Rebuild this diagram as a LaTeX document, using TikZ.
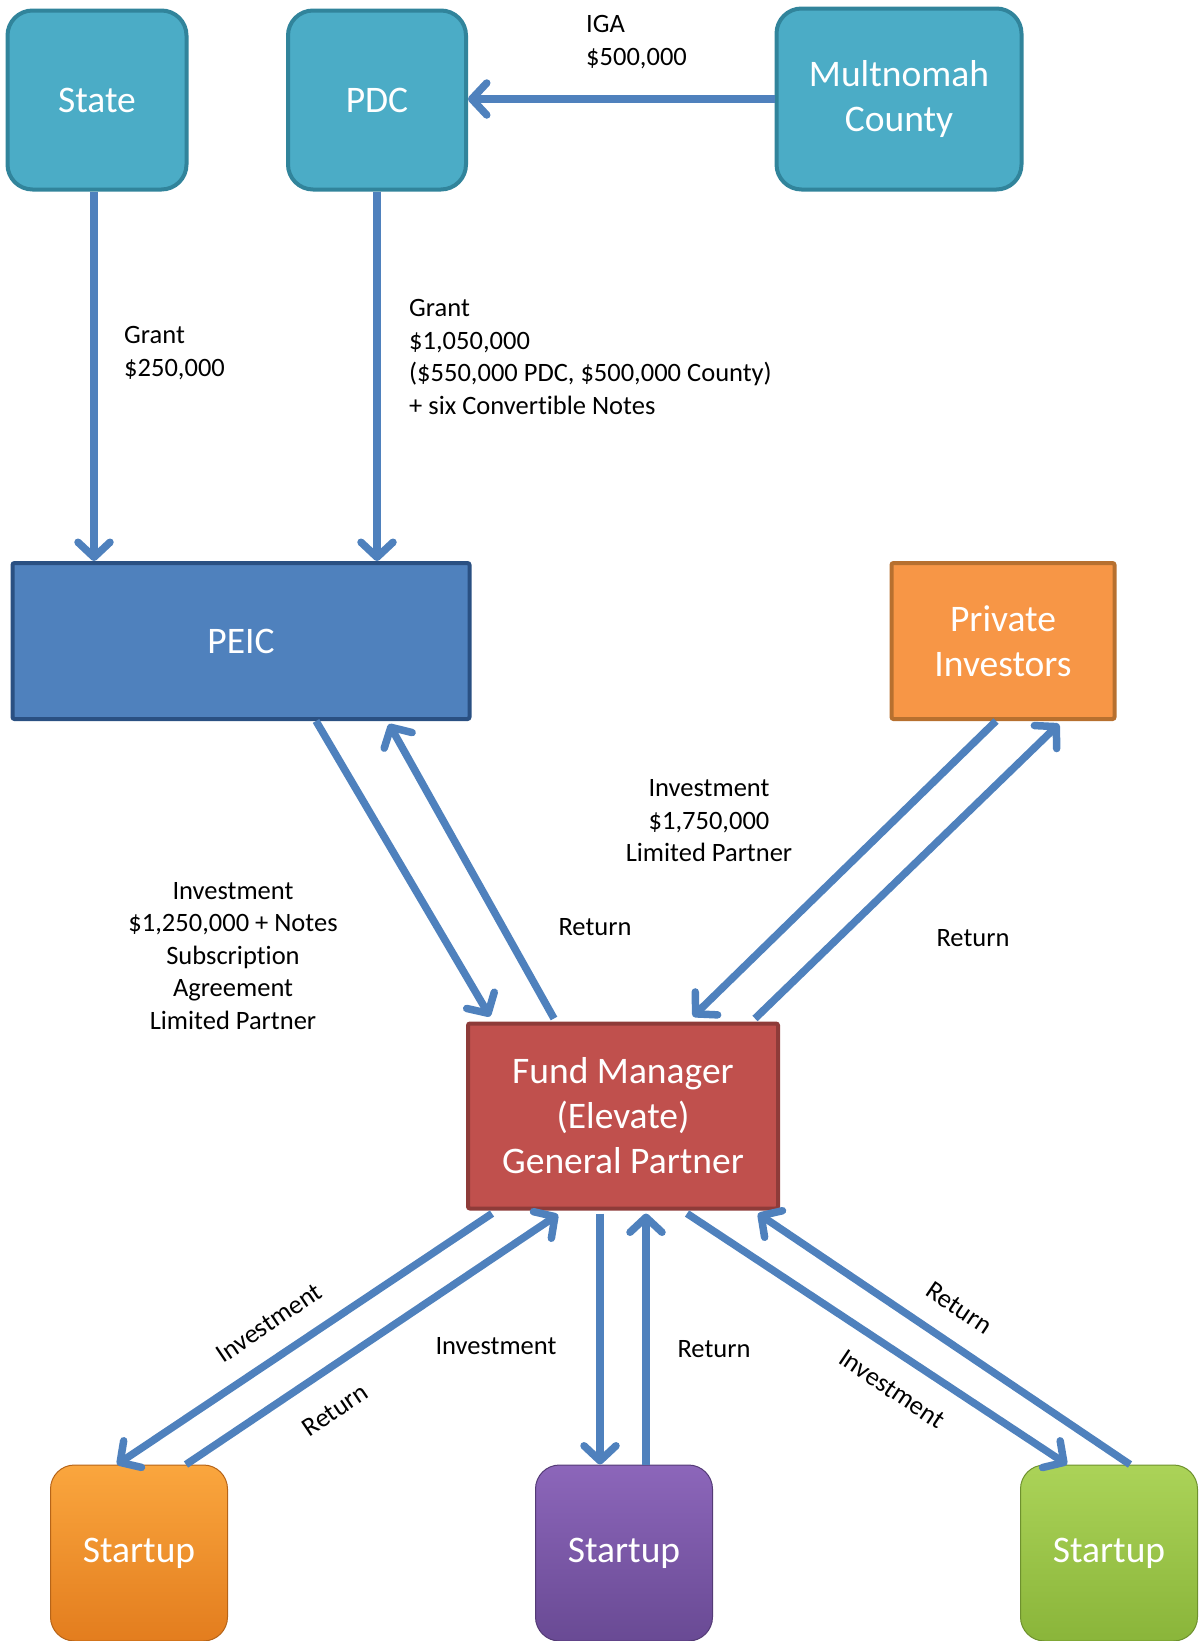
\documentclass[tikz,border=0pt]{standalone}
\usepackage{fontspec}
\setmainfont{Carlito}[Ligatures=NoCommon]
\usetikzlibrary{arrows.meta,calc}
\definecolor{tealfill}{HTML}{4BACC6}
\definecolor{tealdraw}{HTML}{31849B}
\definecolor{peicfill}{HTML}{4F81BD}
\definecolor{peicdraw}{HTML}{2A5082}
\definecolor{pifill}{HTML}{F79646}
\definecolor{pidraw}{HTML}{B7702F}
\definecolor{fmfill}{HTML}{C0504D}
\definecolor{fmdraw}{HTML}{8E3B39}
\definecolor{arrowblue}{HTML}{4F81BD}
\definecolor{orTop}{HTML}{FAA63E}
\definecolor{orBot}{HTML}{E37D1E}
\definecolor{puTop}{HTML}{8C66BA}
\definecolor{puBot}{HTML}{694A94}
\definecolor{grTop}{HTML}{ABD358}
\definecolor{grBot}{HTML}{8AB53A}
\tikzset{
  boxtext/.style={text=white, font=\fontsize{37.5}{45}\selectfont, align=center, inner sep=0},
  topbox/.style={boxtext, fill=tealfill, draw=tealdraw, line width=4pt, rounded corners=25pt},
  sqbox/.style={boxtext, line width=4pt, rounded corners=2pt},
  startbox/.style={boxtext, rounded corners=24pt, minimum width=177pt, minimum height=176pt, line width=1pt},
  lbl/.style={font=\fontsize{26.5}{32.5}\selectfont, inner sep=0, text=black},
  flow/.style={draw=arrowblue, line width=7.5pt, -{Straight Barb[length=15pt,width=32pt,round]}}
}
\begin{document}
\begin{tikzpicture}[x=1pt,y=-1pt]
\useasboundingbox (0,0) rectangle (1200,1641);
% top boxes
\node[topbox, minimum width=179pt, minimum height=179pt] (state) at (97,100) {State};
\node[topbox, minimum width=178pt, minimum height=179pt] (pdc) at (377,100) {PDC};
\node[topbox, minimum width=245pt, minimum height=181pt] (mult) at (899,99) {Multnomah\\County};
% middle
\node[sqbox, fill=peicfill, draw=peicdraw, minimum width=457pt, minimum height=156pt] (peic) at (241,641) {PEIC};
\node[sqbox, fill=pifill, draw=pidraw, minimum width=223pt, minimum height=156pt] (pi) at (1003,641) {Private\\Investors};
\node[sqbox, fill=fmfill, draw=fmdraw, minimum width=310pt, minimum height=185pt] (fm) at (623,1116) {Fund Manager\\(Elevate)\\General Partner};
% startups
\node[startbox, top color=orTop, bottom color=orBot, draw=orBot!80!black] (s1) at (139,1553) {Startup};
\node[startbox, top color=puTop, bottom color=puBot, draw=puBot!80!black] (s2) at (624,1553) {Startup};
\node[startbox, top color=grTop, bottom color=grBot, draw=grBot!80!black] (s3) at (1109,1553) {Startup};

% connectors
\draw[flow] (mult.west) -- (mult.west -| pdc.east);
\draw[flow] ([xshift=-3pt]state.south) -- ([xshift=-3pt]state.south |- peic.north);
\draw[flow] (pdc.south) -- (pdc.south |- peic.north);
\draw[flow] ($(peic.south)+(75,0)$) -- ($(fm.north)+(-133,-5)$);
\draw[flow] ($(fm.north)+(-69,-3)$) -- ($(peic.south)+(148,3)$);
\draw[flow] ($(pi.south)+(-7,0)$) -- ($(fm.north)+(70,-5)$);
\draw[flow] ($(fm.north)+(132,-3)$) -- ($(pi.south)+(56,3)$);
\draw[flow] ($(fm.south)+(-131,3)$) -- ($(s1.north)+(-22,0)$);
\draw[flow] ($(s1.north)+(47,0)$) -- ($(fm.south)+(-65,4)$);
\draw[flow] ($(fm.south)+(-23,3)$) -- ($(s2.north)+(-24,0)$);
\draw[flow] ($(s2.north)+(22,0)$) -- ($(fm.south)+(23,3)$);
\draw[flow] ($(fm.south)+(64,3)$) -- ($(s3.north)+(-42,0)$);
\draw[flow] ($(s3.north)+(21,0)$) -- ($(fm.south)+(135,3)$);

% labels
\node[lbl, anchor=west, align=left] (liga) at (586,42) {IGA\\\$500,000};
\node[lbl, anchor=west, align=left] (lg1) at (124,353) {Grant\\\$250,000};
\node[lbl, anchor=west, align=left] (lg2) at (409,357) {Grant\\\$1,050,000\\(\$550,000 PDC, \$500,000 County)\\+ six Convertible Notes};
\node[lbl, align=center] (lpi) at (709,821) {Investment\\\$1,750,000\\Limited Partner};
\node[lbl] (lr1) at (595,927) {Return};
\node[lbl] (lr2) at (973,938) {Return};
\node[lbl, align=center] (lpe) at (233,956) {Investment\\\$1,250,000 + Notes\\Subscription\\Agreement\\Limited Partner};
\node[lbl, rotate=34] (li1) at (269,1323) {Investment};
\node[lbl, rotate=34] (lr3) at (335,1410) {Return};
\node[lbl] (li2) at (496,1346) {Investment};
\node[lbl] (lr4) at (714,1349) {Return};
\node[lbl, rotate=-34] (lr5) at (959,1308) {Return};
\node[lbl, rotate=-34] (li3) at (892,1389) {Investment};
\end{tikzpicture}
\end{document}
